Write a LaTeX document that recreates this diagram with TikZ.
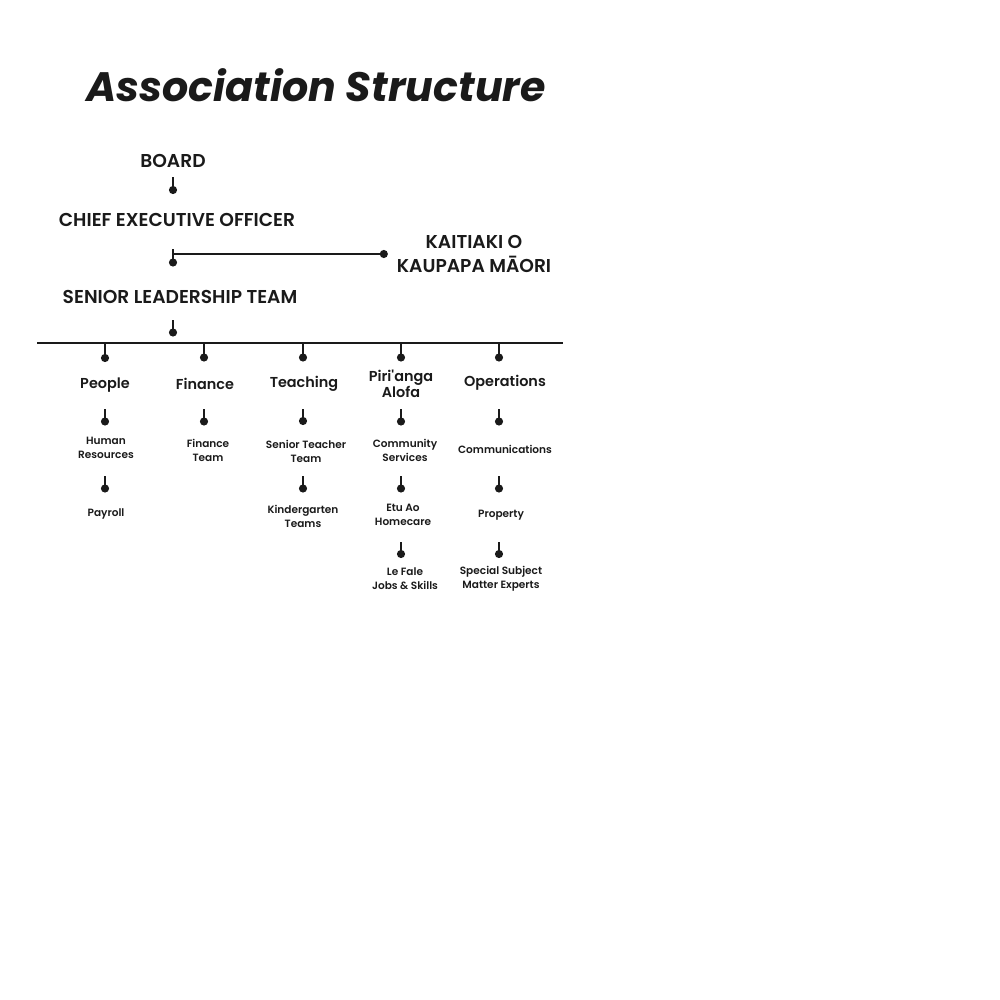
\documentclass[tikz,border=0pt]{standalone}
\usepackage{fontspec}
\setmainfont{Poppins}
\newfontfamily\semibold{Poppins SemiBold}
\usetikzlibrary{arrows.meta}
\definecolor{ink}{HTML}{1A1A1A}

\begin{document}
\begin{tikzpicture}[
    % Environment Config
    x=0.2mm, y=-0.2mm,
    line width=1.2pt,
    color=ink,
    Stem/.style 2 args={% Style for the lollipop connectors
      -{Circle[length=1.6mm]},
      shorten <=#1,
      shorten >=#2
    },
    Title/.style={% Style for the heading
      font=\bfseries\itshape\fontsize{23.4}{28}\selectfont,
      inner sep=0pt
    },
    Head/.style={% Style for the top levels
      font=\semibold\fontsize{10.6}{13.7}\selectfont,
      inner sep=0pt,
      align=center
    },
    Unit/.style={% Style for the divisions
      font=\semibold\fontsize{8.2}{9.1}\selectfont,
      inner sep=0pt,
      align=center
    },
    Team/.style={% Style for the teams
      font=\semibold\fontsize{6}{8}\selectfont,
      inner sep=0pt,
      align=center
    }
  ]

  \useasboundingbox[fill=white] (0,0) rectangle (1000,1000);

  % Title
  \node[Title] (title) at (316,85) {Association Structure};

  % Top levels
  \node[Head] (board) at (173,161) {BOARD};
  \node[Head] (ceo) at (177,220) {CHIEF EXECUTIVE OFFICER};
  \node[Head] (kaitiaki) at (474,254) {KAITIAKI O\\KAUPAPA MĀORI};
  \node[Head] (slt) at (180,297) {SENIOR LEADERSHIP TEAM};

  % The bar and its columns
  \coordinate (barL) at (37,343);
  \coordinate (barR) at (563,343);
  \foreach \name/\x in {People/105,Finance/204,Teaching/303,Piri/401,Ops/499}
    \coordinate (c\name) at (\x,343);

  %===Divisions===
  \node[Unit] (people) at (105,385) {People};
  \node[Unit] (finance) at (205,384) {Finance};
  \node[Unit] (teaching) at (304,384) {Teaching};
  \node[Unit] (piri) at (401,384) {Piri'anga\\Alofa};
  \node[Unit] (ops) at (505,383) {Operations};

  %===Teams===
  \node[Team] (hr) at (106,448) {Human\\Resources};
  \node[Team] (finteam) at (208,450) {Finance\\Team};
  \node[Team] (senteach) at (306,451) {Senior Teacher\\Team};
  \node[Team] (comserv) at (405,450) {Community\\Services};
  \node[Team] (comms) at (505,449) {Communications};

  \node[Team] (payroll) at (106,514) {Payroll};
  \node[Team] (kinder) at (303,516) {Kindergarten\\Teams};
  \node[Team] (etuao) at (403,515) {Etu Ao\\Homecare};
  \node[Team] (property) at (501,515) {Property};

  \node[Team] (lefale) at (405,579) {Le Fale\\Jobs \& Skills};
  \node[Team] (experts) at (501,579) {Special Subject\\Matter Experts};

  % Draw the connectors
  \draw[Stem={3.2mm}{5.2mm}] (board.center) -- (board |- ceo);
  \draw[Stem={5.8mm}{6.1mm}] (ceo -| board) -- (slt -| board);
  \draw[Stem={0pt}{1.6mm}] (board |- kaitiaki) -- (kaitiaki.west);
  \draw[Stem={4.6mm}{1.3mm}] (slt -| board) -- (barL -| board);
  \draw (barL) -- (barR);

  %===Bar to divisions===
  \draw[Stem={0pt}{4.6mm}] (cPeople) -- (cPeople |- people);
  \draw[Stem={0pt}{4.5mm}] (cFinance) -- (cFinance |- finance);
  \draw[Stem={0pt}{4.5mm}] (cTeaching) -- (cTeaching |- teaching);
  \draw[Stem={0pt}{4.5mm}] (cPiri) -- (cPiri |- piri);
  \draw[Stem={0pt}{4.3mm}] (cOps) -- (cOps |- ops);

  %===Divisions to teams===
  \draw[Stem={4.8mm}{4.5mm}] (cPeople |- people) -- (cPeople |- hr);
  \draw[Stem={5mm}{4.9mm}] (cFinance |- finance) -- (cFinance |- finteam);
  \draw[Stem={5mm}{5.2mm}] (cTeaching |- teaching) -- (cTeaching |- senteach);
  \draw[Stem={5mm}{4.9mm}] (cPiri |- piri) -- (cPiri |- comserv);
  \draw[Stem={5.2mm}{4.7mm}] (cOps |- ops) -- (cOps |- comms);

  \draw[Stem={5.6mm}{4.3mm}] (cPeople |- hr) -- (cPeople |- payroll);
  \draw[Stem={5mm}{4.7mm}] (cTeaching |- senteach) -- (cTeaching |- kinder);
  \draw[Stem={5.2mm}{4.5mm}] (cPiri |- comserv) -- (cPiri |- etuao);
  \draw[Stem={5.4mm}{4.5mm}] (cOps |- comms) -- (cOps |- property);

  \draw[Stem={5.4mm}{4.2mm}] (cPiri |- etuao) -- (cPiri |- lefale);
  \draw[Stem={5.4mm}{4.2mm}] (cOps |- property) -- (cOps |- experts);

\end{tikzpicture}
\end{document}
